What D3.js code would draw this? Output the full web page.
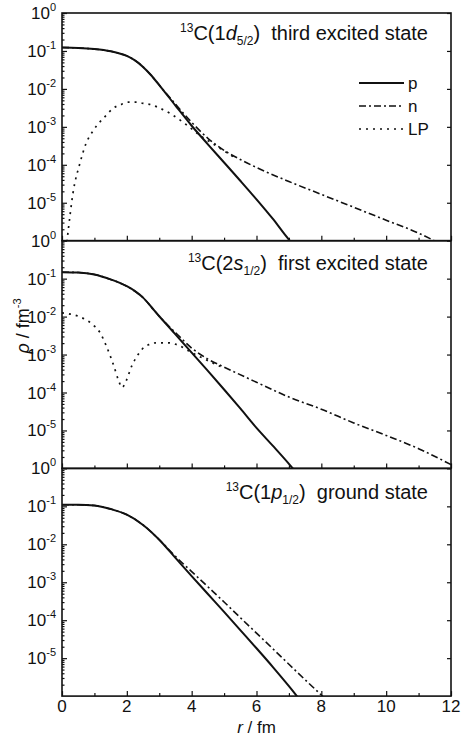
<!DOCTYPE html>
<meta charset="utf-8">
<html>
<head>
<title>13C density distributions</title>
<style>
  body { margin: 0; background: #fff; }
  text { font-family: "Liberation Sans", Arial, sans-serif; fill: #111; }
</style>
</head>
<body>
<script src="https://d3js.org/d3.v7.min.js"></script>
<div id="chart"></div>
<script>

// densities: [r (fm), rho (fm^-3)]
const thirdP = [[0,0.123],[0.5,0.120],[1,0.112],[1.5,0.0977],[1.75,0.0871],[2,0.0741],[2.25,0.0562],[2.5,0.038],[2.75,0.0229],[3,0.0126],[3.5,3.63e-3],[4,1.07e-3],[4.5,3.47e-4],[5,1.15e-4],[5.5,3.8e-5],[6,1.23e-5],[6.5,3.8e-6],[7,1.07e-6],[7.2,7.0e-7]]
const thirdN = [[0,0.123],[0.5,0.120],[1,0.112],[1.5,0.0977],[1.75,0.0871],[2,0.0741],[2.25,0.0562],[2.5,0.038],[2.75,0.0229],[3,0.0126],[3.5,3.98e-3],[4,1.32e-3],[4.5,5.0e-4],[5,2.4e-4],[5.5,1.38e-4],[6,8.5e-5],[7,3.63e-5],[8,1.66e-5],[9,7.6e-6],[10,3.47e-6],[11,1.58e-6],[11.6,8.9e-7]]
const thirdLP = [[0.1,4.0e-7],[0.19,1.82e-6],[0.34,1.82e-5],[0.56,1.15e-4],[0.74,3.63e-4],[0.96,7.9e-4],[1.36,2.0e-3],[1.58,3.09e-3],[1.83,3.89e-3],[2.05,4.47e-3],[2.32,4.47e-3],[2.5,4.17e-3],[2.72,3.89e-3],[2.97,3.24e-3],[3.34,2.24e-3],[3.86,1.10e-3],[4.3,5.6e-4],[4.8,3.0e-4],[5.4,1.41e-4]]

const firstP = [[0,0.148],[0.5,0.145],[1,0.129],[1.5,0.0955],[2,0.0631],[2.25,0.0468],[2.5,0.0316],[2.75,0.0182],[3,0.0102],[3.25,5.9e-3],[3.5,3.39e-3],[4,1.12e-3],[4.5,3.72e-4],[5,1.20e-4],[5.5,3.8e-5],[6,1.17e-5],[6.5,3.98e-6],[7,1.32e-6],[7.2,8.3e-7]]
const firstN = [[0,0.148],[0.5,0.145],[1,0.129],[1.5,0.0955],[2,0.0631],[2.25,0.0468],[2.5,0.0316],[2.75,0.0182],[3,0.0102],[3.5,3.8e-3],[4,1.48e-3],[4.5,7.6e-4],[5,4.68e-4],[6,1.86e-4],[7,7.6e-5],[8,3.63e-5],[9,1.58e-5],[10,7.4e-6],[11,3.31e-6],[12,1.26e-6]]
const firstLP = [[0,1.26e-2],[0.5,1.02e-2],[0.71,8.5e-3],[1,5.6e-3],[1.18,3.7e-3],[1.38,1.58e-3],[1.58,5.6e-4],[1.74,2.14e-4],[1.85,1.35e-4],[1.98,2.04e-4],[2.16,5.2e-4],[2.31,8.9e-4],[2.47,1.38e-3],[2.67,1.82e-3],[2.93,2.04e-3],[3.3,2.04e-3],[3.6,1.74e-3],[3.9,1.26e-3],[4.4,7.6e-4],[5,4.37e-4]]

const groundP = [[0,0.110],[0.5,0.110],[1,0.105],[1.5,0.0851],[2,0.0603],[2.5,0.0324],[3,0.0132],[3.5,4.37e-3],[4,1.45e-3],[4.5,4.9e-4],[5,1.66e-4],[5.5,5.5e-5],[6,1.82e-5],[6.5,5.9e-6],[7,1.82e-6],[7.3,8.7e-7]]
const groundN = [[0,0.110],[0.5,0.110],[1,0.105],[1.5,0.0851],[2,0.0603],[2.5,0.0324],[3,0.0132],[3.5,4.79e-3],[4,1.91e-3],[4.5,7.6e-4],[5,3.02e-4],[5.5,1.17e-4],[6,4.57e-5],[6.5,1.78e-5],[7,6.9e-6],[7.5,2.69e-6],[8,1.07e-6],[8.1,8.9e-7]]

const xTicks = [0, 2, 4, 6, 8, 10, 12]
const yTicks = [1, 1e-1, 1e-2, 1e-3, 1e-4, 1e-5]
const yExponents = ["0", "-1", "-2", "-3", "-4", "-5"]
const legendLabels = ["p", "n", "LP"]

// panel titles: [mass number, orbit prefix, l letter, j subscript, rest]
const panels = [
  {title: ["13", "C(1", "d", "5/2", ")  third excited state"], series: [thirdP, thirdN, thirdLP], legend: true},
  {title: ["13", "C(2", "s", "1/2", ")  first excited state"], series: [firstP, firstN, firstLP]},
  {title: ["13", "C(1", "p", "1/2", ")  ground state"], series: [groundP, groundN]}
]

const width = 462, height = 738
const plotLeft = 62, plotRight = 451, plotTop = 13, ph = 227.7

const svg = d3.select("#chart").append("svg")
    .attr("width", width)
    .attr("height", height)

const x = d3.scaleLinear().domain([0, 12]).range([plotLeft, plotRight])

const styles = [
  {w: 2, dash: null},
  {w: 1.6, dash: "7,3,2,3"},
  {w: 1.7, dash: "2,5"}
]

// minor log ticks
const minor = []
for (let e = -6; e < 0; e++) for (let m = 2; m <= 9; m++) minor.push(m * Math.pow(10, e))

panels.forEach((p, i) => {
  const y0 = plotTop + i * ph
  const y = d3.scaleLog().domain([1e-6, 1]).range([y0 + ph, y0])
  const g = svg.append("g")

  g.append("clipPath").attr("id", "clip" + i)
    .append("rect").attr("x", plotLeft).attr("y", y0).attr("width", plotRight - plotLeft).attr("height", ph)

  // x ticks, pointing inward
  g.append("g").attr("transform", `translate(0,${y0 + ph})`)
    .call(d3.axisBottom(x).tickValues(xTicks).tickSize(-5).tickFormat(""))
  g.append("g").attr("transform", `translate(0,${y0 + ph})`)
    .call(d3.axisBottom(x).tickValues([1, 3, 5, 7, 9, 11]).tickSize(-3).tickFormat(""))

  // y ticks left and right
  g.append("g").attr("transform", `translate(${plotLeft},0)`)
    .call(d3.axisLeft(y).tickValues(yTicks).tickSize(-5).tickFormat(""))
  g.append("g").attr("transform", `translate(${plotLeft},0)`)
    .call(d3.axisLeft(y).tickValues(minor).tickSize(-2.5).tickFormat(""))
  g.append("g").attr("transform", `translate(${plotRight},0)`)
    .call(d3.axisRight(y).tickValues(yTicks).tickSize(-4).tickFormat(""))

  g.selectAll(".domain").remove()
  g.selectAll(".tick line").attr("stroke", "#111").attr("stroke-width", 1.2)

  // frame
  g.append("rect")
    .attr("x", plotLeft).attr("y", y0).attr("width", plotRight - plotLeft).attr("height", ph)
    .attr("fill", "none").attr("stroke", "#111").attr("stroke-width", 1.6)

  // y tick labels 10^n
  const lab = g.selectAll(".ylab").data(yTicks).join("text")
    .attr("class", "ylab")
    .attr("x", 56)
    .attr("y", d => y(d) + 6)
    .attr("text-anchor", "end")
    .style("font-size", "17px")
  lab.append("tspan").text("10")
  lab.append("tspan").attr("dy", -8).style("font-size", "11px").text((d, k) => yExponents[k])

  // curves
  const line = d3.line()
    .x(d => x(d[0]))
    .y(d => y(d[1]))
    .curve(d3.curveMonotoneX)
  p.series.forEach((s, k) => {
    g.append("path")
      .datum(s)
      .attr("clip-path", `url(#clip${i})`)
      .attr("fill", "none")
      .attr("stroke", "#111")
      .attr("stroke-width", styles[k].w)
      .attr("stroke-dasharray", styles[k].dash)
      .attr("d", line)
  })

  // title
  const t = g.append("text")
    .attr("x", 428)
    .attr("y", y0 + [27, 29, 31][i])
    .attr("text-anchor", "end")
    .style("font-size", "20px")
  t.append("tspan").attr("dy", -8).style("font-size", "12px").text(p.title[0])
  t.append("tspan").attr("dy", 8).text(p.title[1])
  t.append("tspan").style("font-style", "italic").text(p.title[2])
  t.append("tspan").attr("dy", 5).style("font-size", "12px").text(p.title[3])
  t.append("tspan").attr("dy", -5).style("white-space", "pre").text(p.title[4])

  if (p.legend) {
    const leg = g.selectAll(".leg").data(legendLabels).join("g")
      .attr("class", "leg")
      .attr("transform", (d, k) => `translate(0,${y0 + 70 + k * 23})`)
    leg.append("line")
      .attr("x1", 359).attr("x2", 404)
      .attr("stroke", "#111")
      .attr("stroke-width", (d, k) => styles[k].w)
      .attr("stroke-dasharray", (d, k) => styles[k].dash)
    leg.append("text")
      .attr("x", 408).attr("y", 6)
      .style("font-size", "17px")
      .text(d => d)
  }

  // x tick labels on bottom panel only
  if (i === panels.length - 1) {
    g.selectAll(".xlab").data(xTicks).join("text")
      .attr("class", "xlab")
      .attr("x", d => x(d))
      .attr("y", y0 + ph + 16)
      .attr("text-anchor", "middle")
      .style("font-size", "17px")
      .text(d => d)
  }
})

// axis titles
const xt = svg.append("text")
    .attr("x", x(6))
    .attr("y", 733)
    .attr("text-anchor", "middle")
    .style("font-size", "17px")
xt.append("tspan").style("font-style", "italic").text("r")
xt.append("tspan").text(" / fm")

const yt = svg.append("text")
    .attr("transform", "translate(29,326) rotate(-90)")
    .attr("text-anchor", "middle")
    .style("font-size", "18px")
yt.append("tspan").style("font-style", "italic").text("ρ")
yt.append("tspan").text(" / fm")
yt.append("tspan").attr("dy", -8).style("font-size", "11px").text("-3")

</script>
</body>
</html>
